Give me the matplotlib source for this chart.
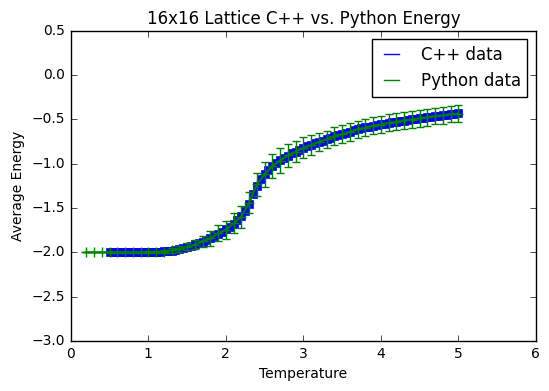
import matplotlib
matplotlib.use('Agg')
import matplotlib.pyplot as plt
from matplotlib.lines import Line2D

plt.style.use('classic')

# C++ results, T from 0.5 to 5.0 in steps of 0.05
cpp_T = [0.50, 0.55, 0.60, 0.65, 0.70, 0.75, 0.80, 0.85, 0.90, 0.95,
         1.00, 1.05, 1.10, 1.15, 1.20, 1.25, 1.30, 1.35, 1.40, 1.45,
         1.50, 1.55, 1.60, 1.65, 1.70, 1.75, 1.80, 1.85, 1.90, 1.95,
         2.00, 2.05, 2.10, 2.15, 2.20, 2.25, 2.30, 2.35, 2.40, 2.45,
         2.50, 2.55, 2.60, 2.65, 2.70, 2.75, 2.80, 2.85, 2.90, 2.95,
         3.00, 3.05, 3.10, 3.15, 3.20, 3.25, 3.30, 3.35, 3.40, 3.45,
         3.50, 3.55, 3.60, 3.65, 3.70, 3.75, 3.80, 3.85, 3.90, 3.95,
         4.00, 4.05, 4.10, 4.15, 4.20, 4.25, 4.30, 4.35, 4.40, 4.45,
         4.50, 4.55, 4.60, 4.65, 4.70, 4.75, 4.80, 4.85, 4.90, 4.95,
         5.00]
cpp_E = [-2.000, -2.000, -2.000, -2.000, -2.000, -2.000, -2.000, -2.000, -2.000, -1.999,
         -1.999, -1.998, -1.997, -1.994, -1.990, -1.986, -1.980, -1.971, -1.961, -1.952,
         -1.940, -1.926, -1.910, -1.896, -1.879, -1.860, -1.840, -1.816, -1.790, -1.766,
         -1.740, -1.710, -1.678, -1.640, -1.592, -1.530, -1.450, -1.345, -1.252, -1.176,
         -1.118, -1.070, -1.030, -0.993, -0.962, -0.934, -0.908, -0.884, -0.862, -0.842,
         -0.820, -0.803, -0.787, -0.771, -0.755, -0.738, -0.722, -0.706, -0.691, -0.677,
         -0.663, -0.649, -0.636, -0.624, -0.612, -0.601, -0.590, -0.581, -0.572, -0.563,
         -0.555, -0.547, -0.540, -0.532, -0.525, -0.519, -0.512, -0.506, -0.500, -0.494,
         -0.488, -0.481, -0.475, -0.469, -0.463, -0.458, -0.452, -0.447, -0.442, -0.437,
         -0.432]

# python results, T from 0.2 to 5.0 in steps of 0.1
py_T = [0.2, 0.3, 0.4, 0.5, 0.6, 0.7, 0.8, 0.9, 1.0, 1.1,
        1.2, 1.3, 1.4, 1.5, 1.6, 1.7, 1.8, 1.9, 2.0, 2.1,
        2.2, 2.3, 2.4, 2.5, 2.6, 2.7, 2.8, 2.9, 3.0, 3.1,
        3.2, 3.3, 3.4, 3.5, 3.6, 3.7, 3.8, 3.9, 4.0, 4.1,
        4.2, 4.3, 4.4, 4.5, 4.6, 4.7, 4.8, 4.9, 5.0]
py_E = [-2.000, -2.000, -2.000, -2.000, -2.000, -2.000, -2.000, -1.999, -1.998, -1.996,
        -1.991, -1.978, -1.962, -1.938, -1.912, -1.875, -1.843, -1.786, -1.745, -1.672,
        -1.600, -1.440, -1.230, -1.120, -1.025, -0.965, -0.905, -0.865, -0.818, -0.790,
        -0.752, -0.725, -0.688, -0.665, -0.640, -0.610, -0.592, -0.570, -0.557, -0.538,
        -0.527, -0.510, -0.502, -0.487, -0.476, -0.462, -0.455, -0.440, -0.433]
py_err = [0.000, 0.000, 0.000, 0.002, 0.003, 0.004, 0.006, 0.008, 0.010, 0.015,
          0.020, 0.025, 0.030, 0.040, 0.050, 0.065, 0.080, 0.090, 0.100, 0.115,
          0.120, 0.120, 0.130, 0.140, 0.140, 0.140, 0.130, 0.120, 0.115, 0.110,
          0.105, 0.100, 0.100, 0.100, 0.098, 0.098, 0.097, 0.097, 0.096, 0.096,
          0.096, 0.095, 0.095, 0.095, 0.095, 0.094, 0.094, 0.094, 0.094]

fig = plt.figure(figsize=(5.49, 3.91), dpi=100, facecolor='white')
ax = fig.add_axes([0.129, 0.128, 0.847, 0.793])

# dense square markers give the solid blue band
ax.plot(cpp_T, cpp_E, 'bs-', markersize=6, markeredgecolor='b', zorder=2)
ax.errorbar(py_T, py_E, yerr=py_err, fmt='g+-', markersize=7, linewidth=1.5,
            capsize=3, elinewidth=1, markeredgewidth=1, zorder=3)

ax.set_xlim(0, 6)
ax.set_ylim(-3.0, 0.5)
ax.set_xticks([0, 1, 2, 3, 4, 5, 6])
ax.set_yticks([0.5, 0.0, -0.5, -1.0, -1.5, -2.0, -2.5, -3.0])
ax.tick_params(labelsize=10)
ax.set_xlabel('Temperature', fontsize=10)
ax.set_ylabel('Average Energy', fontsize=10)
ax.set_title('16x16 Lattice C++ vs. Python Energy', fontsize=12)

handles = [Line2D([], [], color='b'), Line2D([], [], color='g')]
ax.legend(handles, ['C++ data', 'Python data'], loc='upper right', fontsize=12,
          handlelength=1.5, handletextpad=1.0, borderaxespad=0.5, fancybox=False)

fig.savefig('out.png', dpi=100, facecolor='white')
